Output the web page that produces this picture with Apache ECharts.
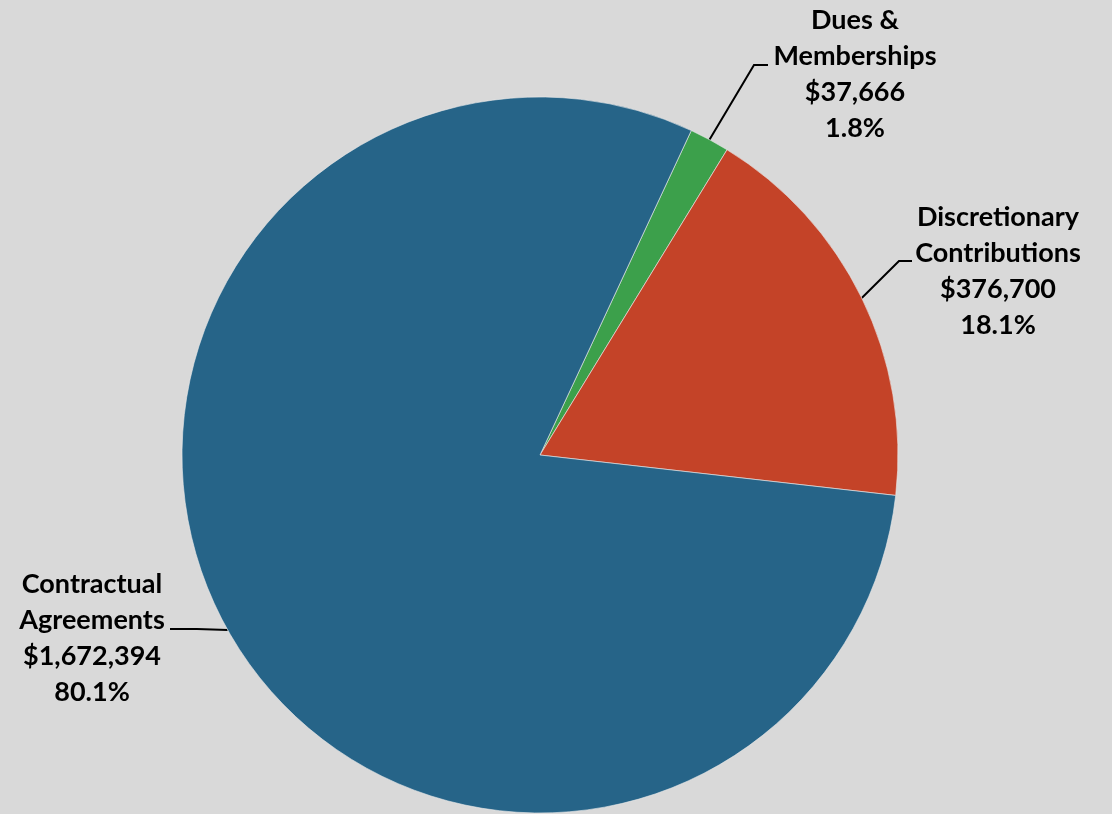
<!DOCTYPE html>
<html>
<head>
<meta charset="utf-8">
<script src="https://cdn.jsdelivr.net/npm/echarts@6/dist/echarts.min.js"></script>
<style>
  html, body { margin: 0; padding: 0; background: #d9d9d9; }
  #chart { width: 1112px; height: 814px; }
</style>
</head>
<body>
<div id="chart"></div>
<script>
// Revenue sources
const categories = ['Dues & Memberships', 'Discretionary Contributions', 'Contractual Agreements'];
const amounts = [37666, 376700, 1672394];
const sliceColors = ['#3ca04b', '#c44328', '#266488'];

// Label anchor (centre of text block) and leader-line bend/end per slice
const labelSpots = [
  { x: 855, y: 74, bend: [754, 65], end: [768, 65] },
  { x: 998, y: 271, bend: [899, 261], end: [912, 261] },
  { x: 92, y: 638, bend: [197, 629], end: [170, 629] }
];

function money(v) {
  return '$' + v.toLocaleString('en-US');
}
function splitName(n) {
  const i = n.lastIndexOf(' ');
  return n.slice(0, i) + '\n' + n.slice(i + 1);
}

const chart = echarts.init(document.getElementById('chart'), null, { renderer: 'canvas' });
chart.setOption({
  backgroundColor: '#d9d9d9',
  animation: false,
  series: [{
    type: 'pie',
    center: [540, 455],
    radius: 358,
    startAngle: 65,
    clockwise: true,
    percentPrecision: 1,
    avoidLabelOverlap: false,
    data: categories.map((c, i) => ({ name: c, value: amounts[i], itemStyle: { color: sliceColors[i] } })),
    itemStyle: { borderWidth: 1, borderColor: 'rgba(235,235,235,0.6)' },
    label: {
      show: true,
      position: 'outside',
      formatter: p => splitName(p.name) + '\n' + money(p.value) + '\n' + p.percent.toFixed(1) + '%',
      fontFamily: 'Lato',
      fontWeight: 'bold',
      fontSize: 27,
      lineHeight: 36,
      color: '#000',
      align: 'center'
    },
    labelLine: {
      show: true,
      smooth: false,
      lineStyle: { color: '#000', width: 2 }
    },
    labelLayout: function (params) {
      const s = labelSpots[params.dataIndex];
      const start = params.labelLinePoints ? params.labelLinePoints[0] : s.bend;
      return {
        x: s.x,
        y: s.y,
        align: 'center',
        verticalAlign: 'middle',
        labelLinePoints: [start, s.bend, s.end]
      };
    }
  }]
});
</script>
</body>
</html>
